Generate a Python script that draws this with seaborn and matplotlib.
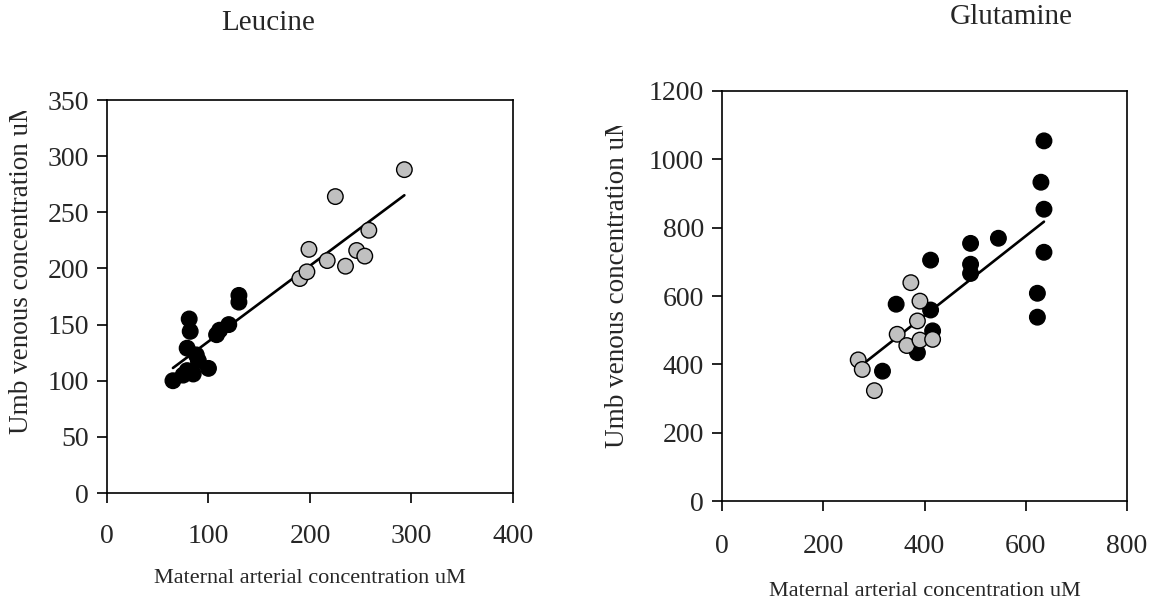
import matplotlib
matplotlib.use("Agg")
import matplotlib.pyplot as plt
from matplotlib.transforms import Bbox, TransformedBbox
import seaborn as sns
import pandas as pd

# Leucine (uM)
leu_black_x = [65, 75, 79, 85, 79, 88, 90, 100, 81, 82, 108, 111, 120, 130, 130]
leu_black_y = [100, 105, 109, 106, 129, 123, 118, 111, 155, 144, 141, 145, 150, 170, 176]
leu_gray_x = [190, 197, 199, 217, 225, 235, 246, 254, 258, 293]
leu_gray_y = [191, 197, 217, 207, 264, 202, 216, 211, 234, 288]

# Glutamine (uM)
gln_black_x = [317, 344, 386, 412, 412, 416, 491, 491, 491, 546, 623, 623, 636, 630, 636, 636]
gln_black_y = [380, 576, 434, 705, 559, 498, 754, 693, 666, 769, 608, 538, 1054, 933, 854, 728]
gln_gray_x = [269, 277, 301, 346, 365, 373, 386, 391, 391, 416]
gln_gray_y = [413, 385, 323, 488, 455, 639, 527, 585, 471, 473]

XLABEL = "Maternal arterial concentration uM"
YLABEL = "Umb venous concentration uM"

sns.set_style("ticks")
plt.rcParams["font.family"] = ["Liberation Serif", "DejaVu Serif"]
plt.rcParams["axes.edgecolor"] = "black"
plt.rcParams["axes.linewidth"] = 1.2


def make_frame(bx, by, gx, gy):
    black = pd.DataFrame({"x": bx, "y": by, "group": "black"})
    gray = pd.DataFrame({"x": gx, "y": gy, "group": "gray"})
    return pd.concat([black, gray], ignore_index=True)


def draw_panel(ax, df, xmax, xstep, ymax, ystep, xpad):
    sns.regplot(data=df, x="x", y="y", ax=ax, scatter=False, ci=None,
                truncate=True, color="black", line_kws={"linewidth": 1.9})
    sns.scatterplot(data=df, x="x", y="y", hue="group", ax=ax,
                    palette={"black": "black", "gray": "#c0c0c0"},
                    s=125, edgecolor="black", linewidth=1.0, legend=False,
                    zorder=3)
    ax.set_xlim(0, xmax)
    ax.set_ylim(0, ymax)
    ax.set_xticks(range(0, xmax + 1, xstep))
    ax.set_yticks(range(0, ymax + 1, ystep))
    ax.tick_params(axis="both", direction="out", length=7, width=1.2,
                   labelsize=20, color="black")
    ax.tick_params(axis="x", pad=xpad)
    ax.tick_params(axis="y", pad=6)
    for side in ["top", "right", "left", "bottom"]:
        ax.spines[side].set_visible(True)
        ax.spines[side].set_color("black")


fig = plt.figure(figsize=(11.64, 6.07), dpi=100)
ax1 = fig.add_axes([0.0919, 0.1878, 0.3488, 0.6474])
ax2 = fig.add_axes([0.6203, 0.1746, 0.3479, 0.6755])

draw_panel(ax1, make_frame(leu_black_x, leu_black_y, leu_gray_x, leu_gray_y),
           400, 100, 350, 50, 15)
draw_panel(ax2, make_frame(gln_black_x, gln_black_y, gln_gray_x, gln_gray_y),
           800, 200, 1200, 200, 17)

# (xlabel coords, ylabel coords, clip top in px from the top edge)
for ax, xl, yl, clip_top in [(ax1, (0.5, -0.193), (-0.18, 0.579), 111),
                             (ax2, (0.5, -0.198), (-0.227, 0.538), 126)]:
    ax.set_xlabel(XLABEL, fontsize=16)
    ax.set_ylabel(YLABEL, fontsize=19.5)
    ax.xaxis.set_label_coords(*xl)
    ax.yaxis.set_label_coords(*yl)
    lab = ax.yaxis.label
    lab.set_clip_on(True)
    lab.set_clip_box(TransformedBbox(Bbox([[0, 0], [1, 1 - clip_top / 607]]),
                                     fig.transFigure))

fig.text(0.230, 0.962, "Leucine", fontsize=21, ha="center", va="center")
fig.text(0.869, 0.972, "Glutamine", fontsize=21, ha="center", va="center")

fig.savefig("out.png", dpi=100)
